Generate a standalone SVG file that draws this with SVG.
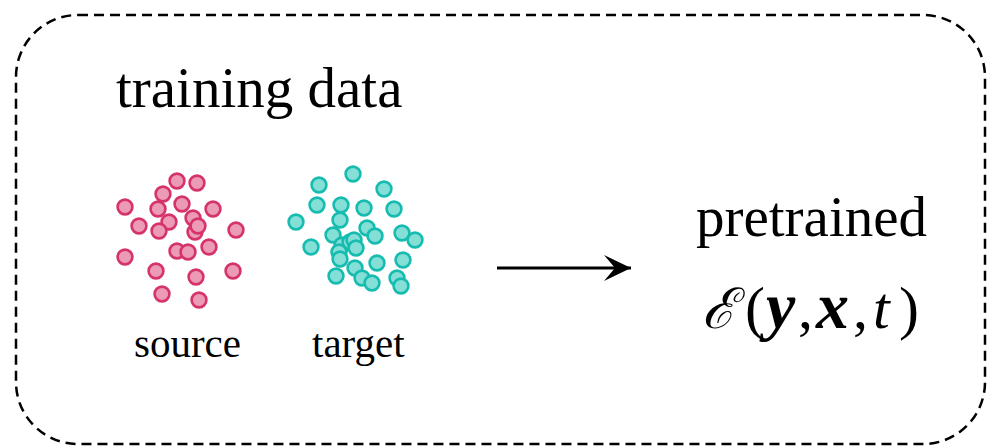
<svg xmlns="http://www.w3.org/2000/svg" width="987" height="447" viewBox="0 0 987 447">
<style>
.lbl{font-family:"Liberation Serif","Times New Roman",serif;fill:#000}
.src{fill:#ec9bb6;stroke:#d6336a;stroke-width:2.6}
.tgt{fill:#84dfd7;stroke:#17bcb0;stroke-width:2.6}
.box{fill:none;stroke:#000;stroke-width:2.5;stroke-dasharray:10 6}
</style>
<defs>
<marker id="ah" markerWidth="30" markerHeight="28" refX="0" refY="0" orient="auto" markerUnits="userSpaceOnUse" viewBox="-28 -14 30 28">
<path d="M0,0 L-27,-13 L-16,0 L-27,13 Z" fill="#000"/>
</marker>
</defs>
<rect class="box" x="16" y="15" width="969" height="429" rx="62" ry="62"/>
<g id="title"><text class="lbl" x="116" y="107" font-size="57">training data</text></g>
<g id="source">
<circle class="src" cx="177" cy="181" r="7.4"/>
<circle class="src" cx="197" cy="183" r="7.4"/>
<circle class="src" cx="163" cy="194" r="7.4"/>
<circle class="src" cx="125" cy="207" r="7.4"/>
<circle class="src" cx="158" cy="209" r="7.4"/>
<circle class="src" cx="182" cy="204" r="7.4"/>
<circle class="src" cx="213" cy="209" r="7.4"/>
<circle class="src" cx="139" cy="226" r="7.4"/>
<circle class="src" cx="169" cy="222" r="7.4"/>
<circle class="src" cx="159" cy="231" r="7.4"/>
<circle class="src" cx="193" cy="218" r="7.4"/>
<circle class="src" cx="195" cy="232" r="7.4"/>
<circle class="src" cx="198" cy="226" r="7.4"/>
<circle class="src" cx="236" cy="230" r="7.4"/>
<circle class="src" cx="177" cy="251" r="7.4"/>
<circle class="src" cx="188" cy="252" r="7.4"/>
<circle class="src" cx="209" cy="247" r="7.4"/>
<circle class="src" cx="125" cy="257" r="7.4"/>
<circle class="src" cx="156" cy="271" r="7.4"/>
<circle class="src" cx="196" cy="277" r="7.4"/>
<circle class="src" cx="233" cy="271" r="7.4"/>
<circle class="src" cx="162" cy="294" r="7.4"/>
<circle class="src" cx="199" cy="300" r="7.4"/>
<text class="lbl" x="134" y="357" font-size="41">source</text>
</g>
<g id="target">
<circle class="tgt" cx="353" cy="174" r="7.4"/>
<circle class="tgt" cx="319" cy="185" r="7.4"/>
<circle class="tgt" cx="384" cy="189" r="7.4"/>
<circle class="tgt" cx="317" cy="205" r="7.4"/>
<circle class="tgt" cx="341" cy="205" r="7.4"/>
<circle class="tgt" cx="364" cy="208" r="7.4"/>
<circle class="tgt" cx="394" cy="209" r="7.4"/>
<circle class="tgt" cx="296" cy="222" r="7.4"/>
<circle class="tgt" cx="340" cy="220" r="7.4"/>
<circle class="tgt" cx="367" cy="228" r="7.4"/>
<circle class="tgt" cx="375" cy="236" r="7.4"/>
<circle class="tgt" cx="402" cy="233" r="7.4"/>
<circle class="tgt" cx="415" cy="240" r="7.4"/>
<circle class="tgt" cx="333" cy="235" r="7.4"/>
<circle class="tgt" cx="311" cy="247" r="7.4"/>
<circle class="tgt" cx="342" cy="245" r="7.4"/>
<circle class="tgt" cx="350" cy="242" r="7.4"/>
<circle class="tgt" cx="354" cy="240" r="7.4"/>
<circle class="tgt" cx="356" cy="248" r="7.4"/>
<circle class="tgt" cx="339" cy="252" r="7.4"/>
<circle class="tgt" cx="340" cy="259" r="7.4"/>
<circle class="tgt" cx="377" cy="263" r="7.4"/>
<circle class="tgt" cx="403" cy="260" r="7.4"/>
<circle class="tgt" cx="355" cy="268" r="7.4"/>
<circle class="tgt" cx="336" cy="276" r="7.4"/>
<circle class="tgt" cx="362" cy="278" r="7.4"/>
<circle class="tgt" cx="372" cy="283" r="7.4"/>
<circle class="tgt" cx="397" cy="278" r="7.4"/>
<circle class="tgt" cx="401" cy="286" r="7.4"/>
<text class="lbl" x="312" y="357" font-size="41">target</text>
</g>
<g id="connectors">
<line x1="497" y1="268" x2="631" y2="268" stroke="#000" stroke-width="3.2" marker-end="url(#ah)"/>
</g>
<g id="model">
<text class="lbl" x="696" y="236" font-size="57">pretrained</text>
<text class="lbl" y="328" font-size="60"><tspan x="702" font-family="DejaVu Serif" font-style="italic" font-size="56">ℰ</tspan><tspan x="745">(</tspan><tspan x="766" font-style="italic" font-weight="bold" font-size="66">y</tspan><tspan x="798">,</tspan><tspan x="816" font-style="italic" font-weight="bold" font-size="66">x</tspan><tspan x="853">,</tspan><tspan x="873" font-style="italic">t</tspan><tspan x="899">)</tspan></text>
</g>
</svg>
